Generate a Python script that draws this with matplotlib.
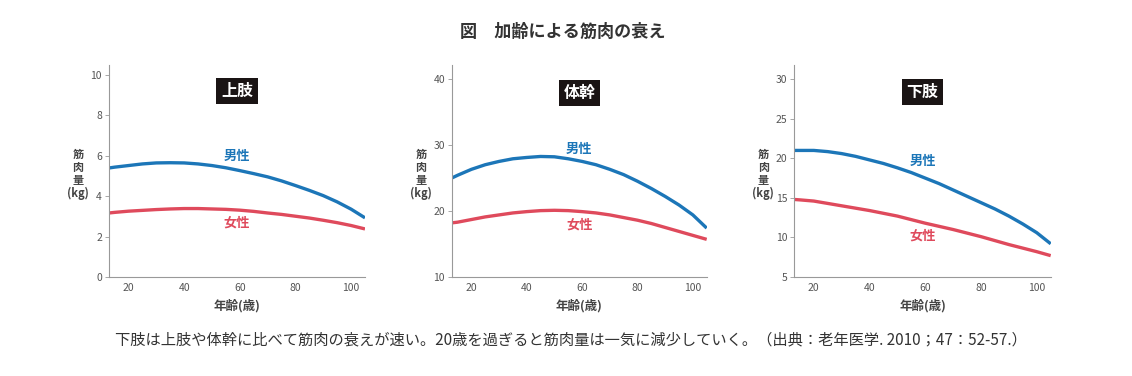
import matplotlib
matplotlib.use("Agg")
import matplotlib.pyplot as plt

plt.rcParams['font.family'] = ['Noto Sans CJK JP', 'DejaVu Sans']

ages = [13, 15, 20, 25, 30, 35, 40, 45, 50, 55, 60, 65, 70, 75, 80, 85, 90, 95, 100, 105]

upper_male = [5.40, 5.44, 5.52, 5.60, 5.65, 5.66, 5.65, 5.60, 5.52, 5.41, 5.27, 5.12, 4.96,
              4.76, 4.53, 4.29, 4.03, 3.72, 3.36, 2.93]
upper_female = [3.17, 3.20, 3.26, 3.30, 3.34, 3.37, 3.39, 3.39, 3.37, 3.35, 3.31, 3.25, 3.17,
                3.10, 3.01, 2.92, 2.81, 2.69, 2.55, 2.38]
trunk_male = [25.0, 25.4, 26.3, 27.0, 27.5, 27.9, 28.1, 28.25, 28.2, 27.9, 27.5, 27.0, 26.3,
              25.5, 24.5, 23.4, 22.2, 20.9, 19.4, 17.4]
trunk_female = [18.2, 18.3, 18.7, 19.1, 19.4, 19.7, 19.9, 20.05, 20.1, 20.05, 19.9, 19.7, 19.4,
                19.0, 18.6, 18.1, 17.5, 16.9, 16.3, 15.7]
lower_male = [21.0, 21.0, 21.0, 20.85, 20.6, 20.25, 19.8, 19.35, 18.8, 18.2, 17.5, 16.8, 16.0,
              15.2, 14.4, 13.6, 12.7, 11.7, 10.6, 9.2]
lower_female = [14.8, 14.75, 14.6, 14.3, 14.0, 13.7, 13.4, 13.05, 12.7, 12.25, 11.8, 11.4, 11.0,
                10.55, 10.1, 9.6, 9.1, 8.65, 8.2, 7.7]

panel_titles = ['上肢', '体幹', '下肢']
series_labels = ['男性', '女性']
x_ticks = [20, 40, 60, 80, 100]
y_ticks = [[0, 2, 4, 6, 8, 10], [10, 20, 30, 40], [5, 10, 15, 20, 25, 30]]
y_limits = [(0, 10.5), (10, 42.1), (5, 31.8)]
male_label_y = [5.97, 29.4, 19.7]
female_label_y = [2.7, 18.0, 10.25]
title_y = [9.2, 37.9, 28.4]

fig_title = '図　加齢による筋肉の衰え'
caption = '下肢は上肢や体幹に比べて筋肉の衰えが速い。20歳を過ぎると筋肉量は一気に減少していく。（出典：老年医学. 2010；47：52-57.）'
y_label = '筋\n肉\n量\n(kg)'
x_label = '年齢(歳)'

BLUE = '#1c76b8'
RED = '#df4a5c'
GRAY = '#555555'

W, H = 1132, 376
fig = plt.figure(figsize=(W / 100, H / 100), dpi=100)

lefts = [109, 452, 794.3]
rights = [365, 706.7, 1050.7]
top_px, bottom_px = 65, 277

data = [(upper_male, upper_female), (trunk_male, trunk_female), (lower_male, lower_female)]

for i in range(3):
    l, r = lefts[i], rights[i]
    ax = fig.add_axes([l / W, (H - bottom_px) / H, (r - l) / W, (bottom_px - top_px) / H])
    m, f = data[i]
    ax.plot(ages, m, color=BLUE, lw=2.4, solid_capstyle='butt', solid_joinstyle='round')
    ax.plot(ages, f, color=RED, lw=2.4, solid_capstyle='butt', solid_joinstyle='round')
    ax.set_xlim(13, 105)
    ax.set_ylim(*y_limits[i])
    ax.set_xticks(x_ticks)
    ax.set_yticks(y_ticks[i])
    for s in ['top', 'right']:
        ax.spines[s].set_visible(False)
    for s in ['left', 'bottom']:
        ax.spines[s].set_color('#999999')
        ax.spines[s].set_linewidth(0.8)
    ax.tick_params(axis='y', length=3, width=0.6, color='#999999', labelsize=7.5, labelcolor=GRAY, pad=2)
    ax.tick_params(axis='x', length=0, labelsize=7.5, labelcolor=GRAY, pad=4)
    ax.text(59, male_label_y[i], series_labels[0], color=BLUE, fontsize=9.5,
            fontweight='bold', ha='center', va='center')
    ax.text(59, female_label_y[i], series_labels[1], color=RED, fontsize=9.5,
            fontweight='bold', ha='center', va='center')
    ax.text(59, title_y[i], panel_titles[i], color='white', fontsize=11.5, fontweight='bold',
            ha='center', va='center',
            bbox=dict(boxstyle='square,pad=0.3', facecolor='#1a1414', edgecolor='none'))
    ax.set_xlabel(x_label, fontsize=9, color='#444444', fontweight='bold', labelpad=5)
    fig.text((l - 31) / W, (H - 174) / H, y_label, fontsize=8, color='#444444',
             fontweight='bold', ha='center', va='center', linespacing=1.0)

fig.text(563 / W, (H - 32) / H, fig_title, fontsize=12.3, fontweight='bold',
         color='#333333', ha='center', va='center')
fig.text(115 / W, (H - 340) / H, caption, fontsize=11, color='#333333',
         ha='left', va='center')

fig.savefig('out.png', dpi=100, facecolor='white')
